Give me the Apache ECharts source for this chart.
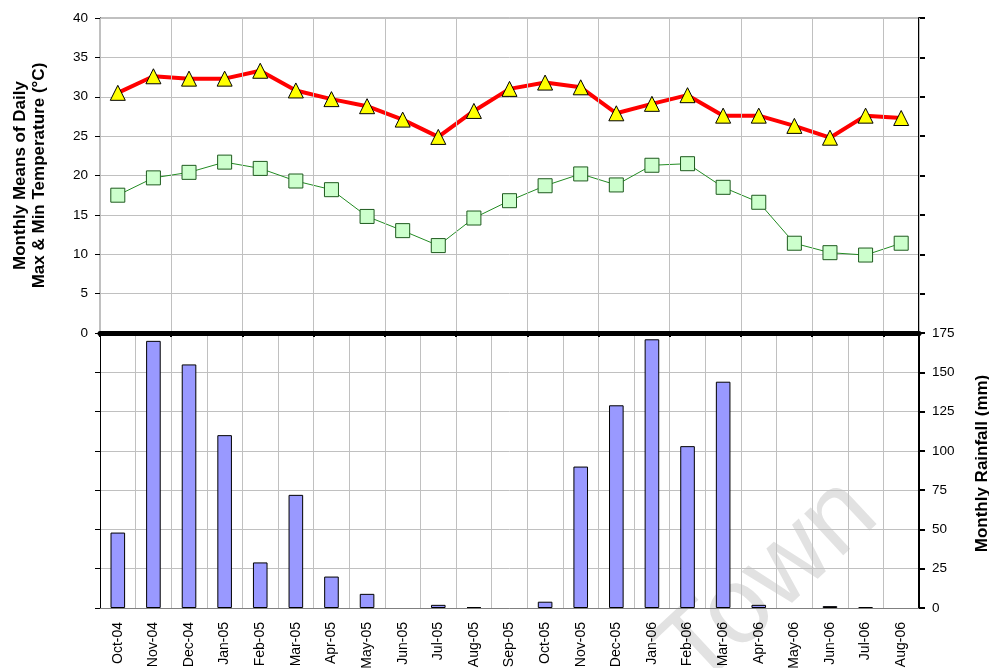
<!DOCTYPE html>
<html>
<head>
<meta charset="utf-8">
<script src="https://cdn.jsdelivr.net/npm/echarts@6/dist/echarts.min.js"></script>
<style>
  html, body { margin: 0; padding: 0; background: #fff; }
  #chart { width: 989px; height: 668px; }
</style>
</head>
<body>
<div id="chart"></div>
<script>
// 月份
var months = ["Oct-04", "Nov-04", "Dec-04", "Jan-05", "Feb-05", "Mar-05", "Apr-05", "May-05",
  "Jun-05", "Jul-05", "Aug-05", "Sep-05", "Oct-05", "Nov-05", "Dec-05", "Jan-06", "Feb-06",
  "Mar-06", "Apr-06", "May-06", "Jun-06", "Jul-06", "Aug-06"];
// 最高气温
var tempMax = [30.5, 32.6, 32.3, 32.3, 33.3, 30.8, 29.7, 28.8, 27.1, 24.9, 28.2, 31.0,
  31.8, 31.2, 27.9, 29.1, 30.2, 27.6, 27.6, 26.3, 24.8, 27.6, 27.3];
// 最低气温
var tempMin = [17.5, 19.7, 20.4, 21.7, 20.9, 19.3, 18.2, 14.8, 13.0, 11.1, 14.6, 16.8,
  18.7, 20.2, 18.8, 21.3, 21.5, 18.5, 16.6, 11.4, 10.2, 9.9, 11.4];
// 降雨量
var rainfall = [48, 170, 155, 110, 29, 72, 20, 9, 0, 2, 0.6, 0, 4, 90, 129, 171, 103,
  144, 2, 0, 1.2, 0.6, 0];

var font = "Liberation Sans, Arial, sans-serif";
var chart = echarts.init(document.getElementById("chart"));

// 零值不画边框
var rainData = rainfall.map(function (v) {
  return v === 0 ? { value: v, itemStyle: { borderWidth: 0 } } : v;
});

chart.setOption({
  animation: false,
  textStyle: { fontFamily: font },
  grid: [
    { left: 100, right: 70, top: 18, height: 315, outerBoundsMode: "none",
      show: true, borderColor: "#808080", borderWidth: 1 },
    { left: 100, right: 70, top: 333, height: 275, outerBoundsMode: "none" }
  ],
  graphic: [{
    type: "text",
    left: 640,
    top: 458,
    rotation: 0.75,
    style: { text: "Town", fontSize: 108, fontFamily: font, fill: "#e2e2e2" },
    z: -10
  }],
  xAxis: [
    {
      type: "category", gridIndex: 0, data: months, boundaryGap: true,
      axisLine: { lineStyle: { color: "#000", width: 5 } },
      axisTick: { show: true, length: 4, lineStyle: { color: "#000", width: 2 } },
      axisLabel: { show: false },
      splitLine: { show: true, lineStyle: { color: "#c0c0c0" } },
      z: 5
    },
    {
      type: "category", gridIndex: 1, data: months, boundaryGap: true,
      axisLine: { lineStyle: { color: "#808080", width: 1 } },
      axisTick: { show: false },
      axisLabel: { rotate: 90, fontSize: 14, color: "#000", margin: 14, interval: 0 },
      splitLine: { show: true, lineStyle: { color: "#c0c0c0" } }
    }
  ],
  yAxis: [
    {
      type: "value", gridIndex: 0, position: "left", min: 0, max: 40, interval: 5,
      name: "Monthly Means of Daily\nMax & Min Temperature (°C)",
      nameLocation: "middle", nameGap: 51, nameRotate: 90,
      nameTextStyle: { fontSize: 17, fontWeight: "bold", color: "#000", lineHeight: 19 },
      axisLine: { show: true, lineStyle: { color: "#000", width: 1 } },
      axisTick: { show: true, length: 5, lineStyle: { color: "#000" } },
      axisLabel: { fontSize: 13.5, color: "#000", margin: 12 },
      splitLine: { show: true, lineStyle: { color: "#c0c0c0" } }
    },
    {
      type: "value", gridIndex: 0, position: "right", min: 0, max: 40, interval: 5,
      axisLine: { show: true, lineStyle: { color: "#000", width: 2 } },
      axisTick: { show: true, length: 6, lineStyle: { color: "#000", width: 2 } },
      axisLabel: { show: false },
      splitLine: { show: false }
    },
    {
      type: "value", gridIndex: 1, position: "left", min: 0, max: 175, interval: 25,
      axisLine: { show: true, lineStyle: { color: "#000", width: 1 } },
      axisTick: { show: true, length: 5, lineStyle: { color: "#000" } },
      axisLabel: { show: false },
      splitLine: { show: true, lineStyle: { color: "#c0c0c0" } }
    },
    {
      type: "value", gridIndex: 1, position: "right", min: 0, max: 175, interval: 25,
      name: "Monthly Rainfall (mm)",
      nameLocation: "middle", nameGap: 55, nameRotate: 90,
      nameTextStyle: { fontSize: 17, fontWeight: "bold", color: "#000", padding: [0, 0, 0, 14] },
      axisLine: { show: true, lineStyle: { color: "#000", width: 2 } },
      axisTick: { show: true, length: 6, lineStyle: { color: "#000", width: 2 } },
      axisLabel: { fontSize: 13.5, color: "#000", margin: 13 },
      splitLine: { show: false }
    }
  ],
  series: [
    {
      name: "Max", type: "line", xAxisIndex: 0, yAxisIndex: 0, data: tempMax,
      lineStyle: { color: "#ff0000", width: 4 },
      symbol: "triangle", symbolSize: 15,
      itemStyle: { color: "#ffff00", borderColor: "#000", borderWidth: 1 },
      z: 4
    },
    {
      name: "Min", type: "line", xAxisIndex: 0, yAxisIndex: 0, data: tempMin,
      lineStyle: { color: "#228b22", width: 1 },
      symbol: "rect", symbolSize: 14,
      itemStyle: { color: "#ccffcc", borderColor: "#1e5a1e", borderWidth: 1 },
      z: 4
    },
    {
      name: "Rainfall", type: "bar", xAxisIndex: 1, yAxisIndex: 3, data: rainData,
      barWidth: "41%",
      itemStyle: { color: "#9999ff", borderColor: "#000", borderWidth: 1 }
    }
  ]
});
</script>
</body>
</html>
